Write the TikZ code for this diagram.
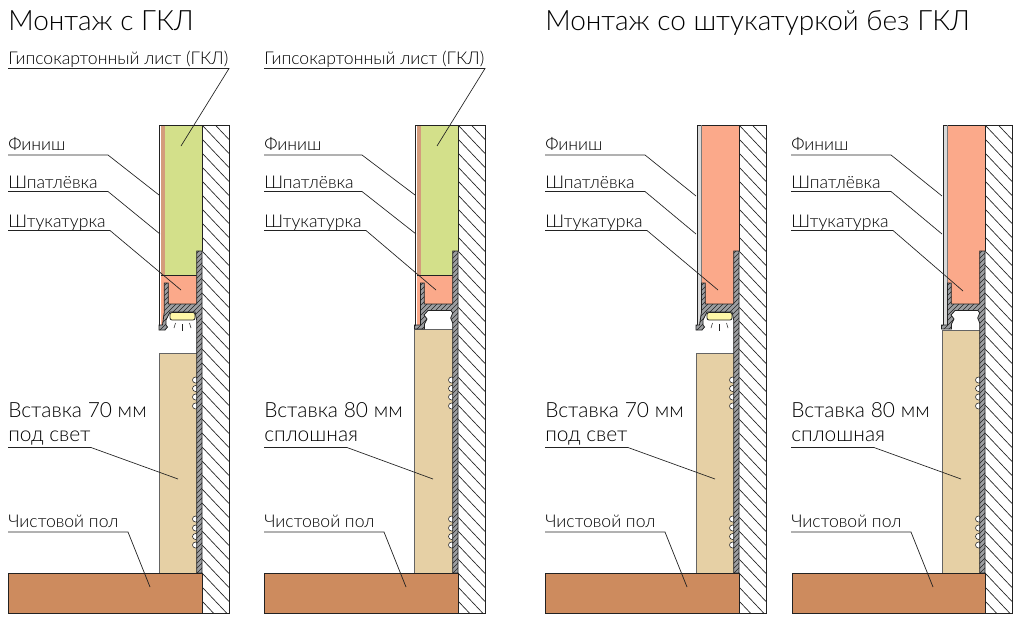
\documentclass[tikz,border=0pt]{standalone}
\usepackage{fontspec}
\setmainfont{Lato Light}
\definecolor{gkl}{HTML}{D3E08A}
\definecolor{plast}{HTML}{FBA98A}
\definecolor{putty}{HTML}{D49C7C}
\definecolor{inset}{HTML}{E6D0A5}
\definecolor{floorc}{HTML}{CD8B5E}
\definecolor{prof}{HTML}{9C9EA1}
\definecolor{finishc}{HTML}{DADADA}
\definecolor{lamp}{HTML}{FFF8A8}
\definecolor{ink}{HTML}{222222}
\tikzset{
 outl/.style={draw=ink,line width=0.6pt},
 thinl/.style={draw=ink!60,line width=0.4pt},
 lead/.style={draw=ink,line width=0.5pt},
 lbl/.style={anchor=base west,inner sep=0pt,font=\fontsize{13.2pt}{15pt}\selectfont,text=black},
 lblbig/.style={anchor=base west,inner sep=0pt,font=\fontsize{15.7pt}{18pt}\selectfont,text=black},
 ttl/.style={anchor=base west,inner sep=0pt,font=\fontsize{21pt}{26pt}\selectfont,text=black},
 ray/.style={draw=ink,line width=0.4pt},
}
% leader: name, text, baseline y, rule y, bend x, end x, end y, style
\newcommand{\leadlbl}[8][lbl]{%
 \node[#1] (#2) at (\tx,#4) {#3};
 \coordinate (#2s) at (\tx,#5);
 \coordinate (#2b) at (#6,#5);
 \coordinate (#2e) at (#7,#8);
 \draw[lead] (#2s) -- (#2b) -- (#2e);
}
\newcommand{\profhatch}{%
 \foreach \k in {0,5,...,400} {\draw[ink,line width=0.45pt] (\ox+150,240+\k) -- ++(60,-60);}
}
\newcommand{\wallfloor}[1]{%
 \begin{scope}
  \clip (#1,125) rectangle (#1+27,613);
  \foreach \k in {-2,...,35} {\draw[ink,line width=0.5pt] (#1,125+14*\k) -- ++(27,28.5);}
 \end{scope}
 \draw[outl] (#1,125) -- (#1+27,125) -- (#1+27,613) -- (#1,613);
}
\newcommand{\bumps}{%
 \foreach \yy in {380,388.5,397,406,519,528,536.5,545}
  {\draw[ink,fill=white,line width=0.4pt] (\ox+195.5,\yy) circle (3);}
}
\newcommand{\lamprofile}[1]{%
 \def\pth{(\ox+#1,283) -- (\ox+168.3,283) -- (\ox+168.3,304) -- (\ox+196.7,304) -- (\ox+196.7,251) -- (\ox+202,251) -- (\ox+202,573) -- (\ox+196.7,573) -- (\ox+196.7,320) -- (\ox+195,312) -- (\ox+170,312) -- (\ox+166,320) -- (\ox+166,325) -- (\ox+167.5,327) -- (\ox+165,330) -- (\ox+159,330) -- (\ox+159,325) -- (\ox+162.5,325) -- (\ox+#1,312) -- cycle}
 \fill[prof] \pth;
 \begin{scope}\clip \pth; \profhatch \end{scope}
 \draw[outl] \pth;
 \draw[outl,fill=lamp,rounded corners=1.5] (\ox+170,312.5) rectangle (\ox+195,320);
 \draw[ray] (\ox+182.5,324) -- (\ox+182.5,331);
 \draw[ray] (\ox+175.5,323) -- (\ox+174,328);
 \draw[ray] (\ox+189.5,323) -- (\ox+191,328);
}
\newcommand{\solidprofile}[1]{%
 \def\pth{(\ox+#1,283) -- (\ox+168.3,283) -- (\ox+168.3,304) -- (\ox+196.7,304) -- (\ox+196.7,251) -- (\ox+202,251) -- (\ox+202,573) -- (\ox+196.7,573) -- (\ox+196.7,323) -- (\ox+194.7,318) -- (\ox+196.7,313) -- (\ox+195,310.5) -- (\ox+172,310.5) -- (\ox+168,315) -- (\ox+171,319) -- (\ox+168.5,324) -- (\ox+168.5,329) -- (\ox+158.5,329) -- (\ox+158.5,325) -- (\ox+#1,325) -- cycle}
 \fill[prof] \pth;
 \begin{scope}\clip \pth; \profhatch \end{scope}
 \draw[outl] \pth;
}
\begin{document}
\begin{tikzpicture}[x=0.75pt,y=-0.75pt]
\useasboundingbox (0,0) rectangle (1035,621);
\fill[white] (0,0) rectangle (1035,621);

%%%%% Panel 1
\def\ox{0}\def\tx{8}
\wallfloor{202}
\fill[inset] (159,353) rectangle (198,573);
\draw[outl,draw=ink!70] (159,573) -- (159,353) -- (198,353);
\bumps
\fill[white] (159.5,125) rectangle (161,325);
\fill[putty] (161,125) rectangle (165,275);
\fill[plast] (161,275) rectangle (165,325);
\fill[plast] (165,275) rectangle (198,304);
\fill[gkl] (165,125) rectangle (202,275);
\draw[outl] (159.5,325) -- (159.5,125) -- (202,125) -- (202,251);
\draw[outl] (161,275) -- (197,275);
\lamprofile{164.3}
\fill[floorc] (8,573) rectangle (202,613);
\draw[outl] (8,573) rectangle (202,613);
\node[ttl] (t1) at (8,30) {Монтаж с ГКЛ};
\leadlbl{a1}{Гипсокартонный лист (ГКЛ)}{64}{68.5}{229}{181}{146}
\leadlbl{a2}{Финиш}{150}{155}{108}{159}{195}
\leadlbl{a3}{Шпатлёвка}{188}{191.5}{108}{160}{234}
\leadlbl{a4}{Штукатурка}{227}{230.5}{110}{181}{290}
\leadlbl[lblbig]{a5}{Вставка 70 мм}{417}{447.5}{91}{178}{479}
\node[lblbig] (a5b) at (8,441.5) {под свет};
\leadlbl{a6}{Чистовой пол}{527.5}{532}{128}{150}{587}

%%%%% Panel 2
\def\ox{256}\def\tx{264}
\wallfloor{458}
\fill[inset] (414.5,329) rectangle (453.5,573);
\draw[outl,draw=ink!70] (414.5,573) -- (414.5,329) -- (453.5,329);
\bumps
\fill[white] (415,125) rectangle (417,329);
\fill[putty] (417,125) rectangle (421,275);
\fill[plast] (417,275) rectangle (421,325);
\fill[plast] (421,275) rectangle (454,304);
\fill[gkl] (421,125) rectangle (458,275);
\draw[outl] (415,329) -- (415,125) -- (458,125) -- (458,251);
\draw[outl] (417,275) -- (453,275);
\solidprofile{420.5-256}
\fill[floorc] (264,573) rectangle (458,613);
\draw[outl] (264,573) rectangle (458,613);
\leadlbl{b1}{Гипсокартонный лист (ГКЛ)}{64}{68.5}{485}{437}{146}
\leadlbl{b2}{Финиш}{150}{155}{362}{415}{195}
\leadlbl{b3}{Шпатлёвка}{188}{191.5}{362}{416}{234}
\leadlbl{b4}{Штукатурка}{227}{230.5}{366}{436}{290}
\leadlbl[lblbig]{b5}{Вставка 80 мм}{417}{447.5}{347}{433}{479}
\node[lblbig] (b5b) at (264,441.5) {сплошная};
\leadlbl{b6}{Чистовой пол}{527.5}{532}{384}{406}{587}

%%%%% Panel 3
\def\ox{537}\def\tx{545}
\wallfloor{739}
\fill[inset] (696,353) rectangle (735,573);
\draw[outl,draw=ink!70] (696,573) -- (696,353) -- (735,353);
\bumps
\fill[finishc] (697,125) rectangle (701.5,325);
\fill[plast] (701.5,125) rectangle (739,251);
\fill[plast] (701.5,251) rectangle (735,304);
\draw[outl] (697,325) -- (697,125) -- (739,125) -- (739,251);
\draw[thinl] (701.5,125) -- (701.5,283);
\lamprofile{701.5-537}
\fill[floorc] (545,573) rectangle (739,613);
\draw[outl] (545,573) rectangle (739,613);
\node[ttl] (t2) at (545,30) {Монтаж со штукатуркой без ГКЛ};
\leadlbl{c2}{Финиш}{150}{155}{645}{696}{196}
\leadlbl{c3}{Шпатлёвка}{188}{191.5}{645}{696}{234}
\leadlbl{c4}{Штукатурка}{227}{230.5}{647}{718}{290}
\leadlbl[lblbig]{c5}{Вставка 70 мм}{417}{447.5}{628}{715}{479}
\node[lblbig] (c5b) at (545,441.5) {под свет};
\leadlbl{c6}{Чистовой пол}{527.5}{532}{665}{687}{587}

%%%%% Panel 4
\def\ox{783}\def\tx{791}
\wallfloor{985}
\fill[inset] (942.5,330) rectangle (980.5,573);
\draw[outl,draw=ink!70] (942.5,573) -- (942.5,330) -- (980.5,330);
\bumps
\fill[finishc] (943,125) rectangle (947.5,325);
\fill[plast] (947.5,125) rectangle (985,251);
\fill[plast] (947.5,251) rectangle (981,304);
\draw[outl] (943,325) -- (943,125) -- (985,125) -- (985,251);
\draw[thinl] (947.5,125) -- (947.5,283);
\solidprofile{947.5-783}
\fill[floorc] (792,573) rectangle (985,613);
\draw[outl] (792,573) rectangle (985,613);
\leadlbl{d2}{Финиш}{150}{155}{891}{942}{196}
\leadlbl{d3}{Шпатлёвка}{188}{191.5}{891}{942}{234}
\leadlbl{d4}{Штукатурка}{227}{230.5}{893}{963}{291}
\leadlbl[lblbig]{d5}{Вставка 80 мм}{417}{447.5}{874}{961}{479}
\node[lblbig] (d5b) at (791,441.5) {сплошная};
\leadlbl{d6}{Чистовой пол}{527.5}{532}{911}{933}{587}
\end{tikzpicture}
\end{document}
